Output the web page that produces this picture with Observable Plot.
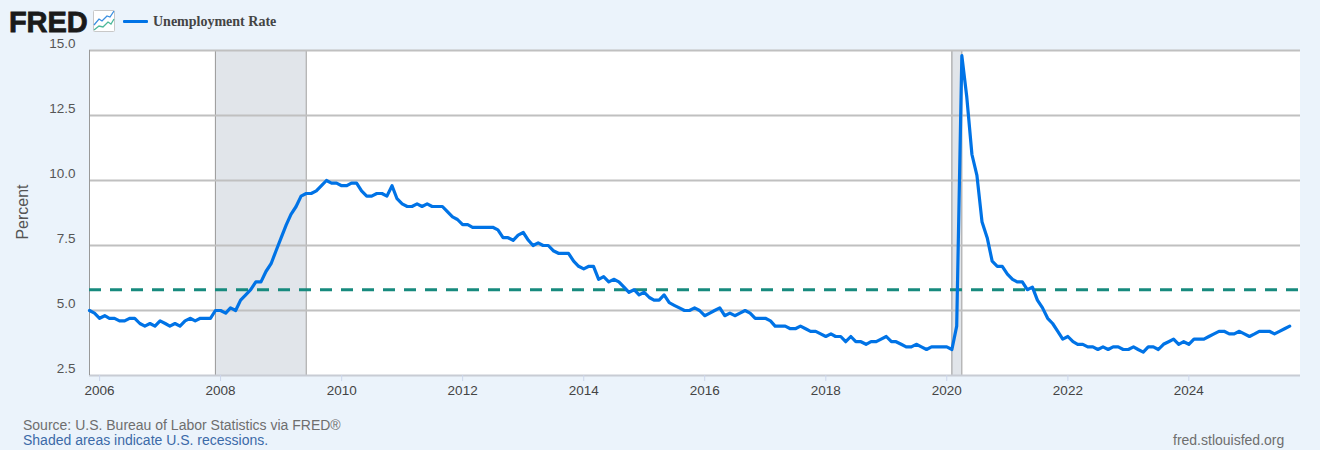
<!DOCTYPE html>
<html><head><meta charset="utf-8">
<script src="https://cdn.jsdelivr.net/npm/d3@7"></script>
<script src="https://cdn.jsdelivr.net/npm/@observablehq/plot@0.6"></script>
<style>
html,body{margin:0;padding:0;background:#ebf3fb;}
#wrap{position:relative;width:1320px;height:450px;overflow:hidden;font-family:"Liberation Sans",Arial,sans-serif;}
#wrap svg.plot{position:absolute;left:0;top:0;background:#ebf3fb;}
.abs{position:absolute;white-space:nowrap;}
</style></head><body><div id="wrap"></div>
<script>
const seriesName = "Unemployment Rate";
const firstMonth = "2005-11-01";
const rates = [
5.0,4.9,
4.7,4.8,4.7,4.7,4.6,4.6,4.7,4.7,4.5,4.4,4.5,4.4,
4.6,4.5,4.4,4.5,4.4,4.6,4.7,4.6,4.7,4.7,4.7,5.0,
5.0,4.9,5.1,5.0,5.4,5.6,5.8,6.1,6.1,6.5,6.8,7.3,
7.8,8.3,8.7,9.0,9.4,9.5,9.5,9.6,9.8,10.0,9.9,9.9,
9.8,9.8,9.9,9.9,9.6,9.4,9.4,9.5,9.5,9.4,9.8,9.3,
9.1,9.0,9.0,9.1,9.0,9.1,9.0,9.0,9.0,8.8,8.6,8.5,
8.3,8.3,8.2,8.2,8.2,8.2,8.2,8.1,7.8,7.8,7.7,7.9,
8.0,7.7,7.5,7.6,7.5,7.5,7.3,7.2,7.2,7.2,6.9,6.7,
6.6,6.7,6.7,6.2,6.3,6.1,6.2,6.1,5.9,5.7,5.8,5.6,
5.7,5.5,5.4,5.4,5.6,5.3,5.2,5.1,5.0,5.0,5.1,5.0,
4.8,4.9,5.0,5.1,4.8,4.9,4.8,4.9,5.0,4.9,4.7,4.7,
4.7,4.6,4.4,4.4,4.4,4.3,4.3,4.4,4.3,4.2,4.2,4.1,
4.0,4.1,4.0,4.0,3.8,4.0,3.8,3.8,3.7,3.8,3.8,3.9,
4.0,3.8,3.8,3.7,3.6,3.6,3.7,3.6,3.5,3.6,3.6,3.6,
3.6,3.5,4.4,14.8,13.2,11.0,10.2,8.4,7.8,6.9,6.7,6.7,
6.4,6.2,6.1,6.1,5.8,5.9,5.4,5.1,4.7,4.5,4.2,3.9,
4.0,3.8,3.7,3.7,3.6,3.6,3.5,3.6,3.5,3.6,3.6,3.5,
3.5,3.6,3.5,3.4,3.6,3.6,3.5,3.7,3.8,3.9,3.7,3.8,
3.7,3.9,3.9,3.9,4.0,4.1,4.2,4.2,4.1,4.1,4.2,4.1,
4.0,4.1,4.2,4.2,4.2,4.1,4.2,4.3,4.4
];
const recessionStarts = ["2007-12-01","2020-02-01"];
const recessionEnds = ["2009-06-01","2020-04-01"];
const referenceLevel = [5.8];
const yTicks = [2.5,5,7.5,10,12.5,15];
const gridLevels = [5,7.5,10,12.5,15];
const xTickYears = [2006,2008,2010,2012,2014,2016,2018,2020,2022,2024];
const xDomain = ["2005-11-01","2025-11-05"];
const yLabel = "Percent";
const sourceText = "Source: U.S. Bureau of Labor Statistics via FRED®";
const noteText = "Shaded areas indicate U.S. recessions.";
const siteText = "fred.stlouisfed.org";

const start = new Date(firstMonth);
const table = rates.map((v,i)=>({date:d3.utcMonth.offset(start,i),v}));
const recessions = recessionStarts.map((s,i)=>({a:new Date(s),b:new Date(recessionEnds[i])}));
const edges = recessions.flatMap(r=>[r.a,r.b]);
const xTicks = xTickYears.map(y=>new Date(Date.UTC(y,0,1)));

const chart = Plot.plot({
  width:1320,height:450,
  marginLeft:89,marginRight:20,marginTop:50,marginBottom:75,
  style:{background:"#ebf3fb",fontFamily:'"Liberation Sans",Arial,sans-serif'},
  x:{type:"utc",domain:xDomain.map(d=>new Date(d)),label:null},
  y:{domain:[2.5,15],label:null},
  marks:[
    Plot.rectY([0],{x1:()=>new Date(xDomain[0]),x2:()=>new Date(xDomain[1]),y1:2.5,y2:15,fill:"#ffffff"}),
    Plot.rect(recessions,{x1:"a",x2:"b",y1:2.5,y2:15,fill:"#e1e5ea"}),
    Plot.ruleX(edges,{y1:2.5,y2:15,stroke:"#999999",strokeWidth:1}),
    Plot.ruleY(gridLevels,{stroke:"#c0c0c0",strokeWidth:2}),
    Plot.ruleY([2.5],{stroke:"#c8ccd4",strokeWidth:2}),
    Plot.ruleX([xDomain[0]].map(d=>new Date(d)),{y1:2.5,y2:15,stroke:"#999999",strokeWidth:1}),
    Plot.ruleY(referenceLevel,{stroke:"#178a7e",strokeWidth:3,strokeDasharray:"12 9"}),
    Plot.lineY(table,{x:"date",y:"v",stroke:"#0073e6",strokeWidth:3.2,strokeLinejoin:"round",strokeLinecap:"round"}),
    Plot.axisY({ticks:yTicks,tickSize:0,tickPadding:14,dy:-6.5,tickFormat:d=>d.toFixed(1),fontSize:13.5,fill:"#555555",label:null}),
    Plot.axisX({ticks:xTicks,tickFormat:d3.utcFormat("%Y"),tickSize:6,tickPadding:4,fontSize:13.5,stroke:"#ccd6eb",fill:"#444444",label:null})
  ]
});
const wrap=document.getElementById("wrap");
wrap.appendChild(chart);
function add(text,css){const d=document.createElement("div");d.className="abs";d.style.cssText=css;d.textContent=text;wrap.appendChild(d);return d;}
add("FRED","left:9px;top:6px;font:900 29px/32px 'Liberation Sans',Arial,sans-serif;color:#1a1a1a;letter-spacing:-0.1px;-webkit-text-stroke:0.8px #1a1a1a;");
const icon=document.createElementNS("http://www.w3.org/2000/svg","svg");
icon.setAttribute("width","23");icon.setAttribute("height","23");icon.setAttribute("class","abs");
icon.style.cssText="left:93px;top:10px;";
icon.innerHTML='<rect x="0.5" y="0.5" width="21" height="21" rx="1" fill="#fff" stroke="#c8c8c8"/><polyline points="1,15 6,9 9,11 14,6 17,7 21,1" fill="none" stroke="#3a8fe0" stroke-width="1.3"/><polyline points="1,20 6,16 10,17 15,12 18,14 21,9" fill="none" stroke="#4db89a" stroke-width="1.3"/>';
wrap.appendChild(icon);
const key=document.createElement("div");key.className="abs";key.style.cssText="left:123px;top:20px;width:25px;height:3px;background:#0073e6;border-radius:1px;";wrap.appendChild(key);
add(seriesName,"left:153px;top:14px;font:bold 14px/16px 'Liberation Serif',serif;color:#444;");
add(yLabel,"left:23px;top:212px;transform:translate(-50%,-50%) rotate(-90deg);font:16px/18px 'Liberation Sans',Arial,sans-serif;color:#555;");
add(sourceText,"left:23px;top:417px;font:14px/16px 'Liberation Sans',Arial,sans-serif;color:#6e6e6e;");
add(noteText,"left:23px;top:432px;font:14px/16px 'Liberation Sans',Arial,sans-serif;color:#3b6aa8;");
add(siteText,"left:1173px;top:432px;font:14px/16px 'Liberation Sans',Arial,sans-serif;color:#6e6e6e;");
</script></body></html>
